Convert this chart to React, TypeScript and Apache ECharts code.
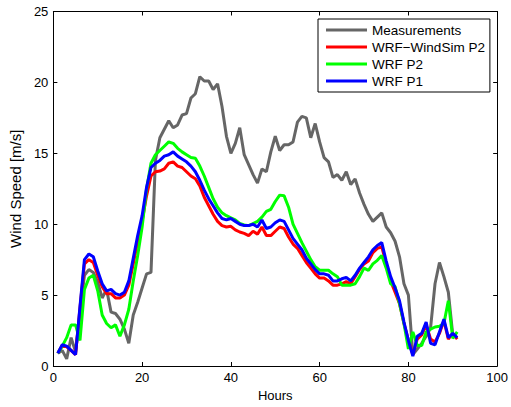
import React, { useEffect, useRef } from "react";
import * as echarts from "echarts";

const hours: number[] = Array.from({ length: 91 }, (_, i) => i + 1);

const measurements: number[] = [
  0.9, 1.1, 0.5, 2.0, 1.0, 3.7, 6.4, 6.8, 6.6, 5.9,
  4.8, 5.4, 3.8, 3.7, 3.3, 2.6, 1.6, 3.6, 4.5, 5.5,
  6.5, 6.6, 14.5, 16.1, 16.7, 17.3, 16.8, 17.0, 17.7, 17.8,
  18.9, 19.2, 20.4, 20.1, 20.1, 19.5, 19.9, 18.3, 16.2, 15.0,
  15.7, 16.8, 14.9, 14.2, 13.5, 12.9, 13.9, 13.7, 15.1, 16.2,
  15.2, 15.6, 15.6, 15.8, 17.2, 17.6, 17.5, 16.1, 17.1, 15.8,
  14.7, 14.4, 13.3, 13.5, 13.1, 13.7, 12.8, 13.2, 12.2, 11.4,
  10.7, 10.2, 10.5, 10.8, 9.8, 9.4, 8.8, 7.7, 5.8, 5.0,
  0.8, 1.2, 1.6, 2.1, 2.7, 5.8, 7.3, 6.3, 5.2, 2.2,
  2.0,
];

const wrfWindSimP2: number[] = [
  0.9, 1.45, 1.35, 1.1, 0.8, 4.1, 7.2, 7.5, 7.3, 6.4,
  5.6, 5.1, 5.1, 4.8, 4.8, 5.0, 5.7, 7.2, 8.8, 10.2,
  12.0, 13.4, 13.7, 13.75, 13.9, 14.3, 14.4, 14.1, 14.0, 13.7,
  13.4, 13.2, 12.7, 11.9, 11.3, 10.7, 10.2, 9.9, 9.8, 9.85,
  9.6, 9.45, 9.35, 9.2, 9.5, 9.3, 9.8, 9.2, 9.2, 9.5,
  9.8, 9.7, 9.1, 8.6, 8.3, 7.8, 7.3, 6.9, 6.5, 6.2,
  6.2, 6.0, 5.7, 5.7, 5.8, 5.95, 5.8, 6.3, 6.8, 7.2,
  7.4, 8.0, 8.3, 8.4, 7.2, 6.0, 5.2, 4.4, 3.0, 1.8,
  0.8, 1.9, 2.2, 2.9, 1.9, 1.7, 2.3, 3.2, 1.9, 2.3,
  1.9,
];

const wrfP2: number[] = [
  0.9, 1.4, 2.0, 2.9, 2.9, 1.8, 5.4, 6.2, 6.4, 5.3,
  3.6, 3.0, 2.7, 2.9, 2.1, 2.9, 4.0, 6.0, 7.8, 9.8,
  12.5, 14.3, 14.9, 15.2, 15.5, 15.8, 15.7, 15.35, 15.1, 14.9,
  14.7, 14.65, 14.1, 13.4, 12.6, 11.8, 11.2, 10.8, 10.6, 10.45,
  10.3, 10.05, 9.95, 9.9, 10.05, 10.2, 10.5, 10.9, 11.05, 11.6,
  12.05, 12.0, 11.2, 10.0, 9.35, 8.7, 8.1, 7.5, 7.0, 6.75,
  6.75, 6.75, 6.5, 6.3, 5.7, 5.7, 5.7, 5.8, 6.3, 6.9,
  6.75, 7.2, 7.45, 7.8, 6.9, 5.8, 5.6, 4.4, 3.0, 1.2,
  2.4, 1.45, 1.45, 2.4, 2.6, 2.75, 2.8, 3.0, 4.6, 1.95,
  2.4,
];

const wrfP1: number[] = [
  0.9, 1.5, 1.4, 1.1, 0.8, 4.2, 7.5, 7.9, 7.7, 6.7,
  5.8, 5.3, 5.4, 5.1, 5.0, 5.2, 6.0, 7.6, 9.2, 10.6,
  12.6, 14.0, 14.3, 14.5, 14.8, 14.9, 15.1, 14.8, 14.6, 14.4,
  14.1, 13.7, 13.1, 12.4, 11.8, 11.3, 10.8, 10.4, 10.3, 10.4,
  10.2, 10.0, 9.9, 9.9, 10.0, 9.8, 10.3, 9.7, 9.8, 10.1,
  10.3, 10.2, 9.6, 9.0, 8.6, 8.2, 7.6, 7.2, 6.8, 6.5,
  6.5, 6.4, 6.0, 6.0, 6.15, 6.25, 6.0, 6.4, 6.9, 7.3,
  7.7, 8.2, 8.5, 8.7, 7.4, 6.3, 5.5, 4.6, 3.1, 1.8,
  0.7, 2.1, 2.3, 3.1, 1.6, 1.5, 2.4, 3.3, 2.0, 2.3,
  2.0,
];

const seriesNames: string[] = ["Measurements", "WRF\u2212WindSim P2", "WRF P2", "WRF P1"];
const seriesColors: string[] = ["#666666", "#ff0000", "#00ff00", "#0000ff"];
const seriesValues: number[][] = [measurements, wrfWindSimP2, wrfP2, wrfP1];

const FONT = "'Liberation Sans', Arial, Helvetica, sans-serif";

export default function App() {
  const ref = useRef<HTMLDivElement>(null);

  useEffect(() => {
    if (!ref.current) return;
    const chart = echarts.init(ref.current, undefined, { renderer: "svg" });

    const axisCommon = {
      axisLine: { show: true, onZero: false, lineStyle: { color: "#000", width: 1 } },
      axisTick: { show: true, inside: true, length: 4, lineStyle: { color: "#000", width: 1 } },
      splitLine: { show: false },
    };

    const option: any = {
      animation: false,
      backgroundColor: "#ffffff",
      textStyle: { fontFamily: FONT },
      grid: { left: 48.5, right: 12, top: 11.5, bottom: 41, containLabel: false },
      legend: {
        orient: "vertical",
        left: 318,
        top: 19,
        backgroundColor: "#ffffff",
        borderColor: "#000",
        borderWidth: 1,
        borderRadius: 0,
        padding: [4, 5, 4, 8],
        icon: "rect",
        itemWidth: 41,
        itemHeight: 3,
        itemGap: 3,
        data: seriesNames,
        textStyle: { fontSize: 13.5, color: "#000", fontFamily: FONT, lineHeight: 14 },
      },
      xAxis: [
        {
          type: "value",
          position: "bottom",
          min: 0,
          max: 100,
          interval: 20,
          ...axisCommon,
          axisLabel: { color: "#000", fontSize: 13, margin: 5, fontFamily: FONT },
          name: "Hours",
          nameLocation: "middle",
          nameGap: 21,
          nameTextStyle: { color: "#000", fontSize: 13, fontFamily: FONT },
        },
        {
          type: "value",
          position: "top",
          min: 0,
          max: 100,
          interval: 20,
          ...axisCommon,
          axisLabel: { show: false },
        },
      ],
      yAxis: [
        {
          type: "value",
          position: "left",
          min: 0,
          max: 25,
          interval: 5,
          ...axisCommon,
          axisLabel: { color: "#000", fontSize: 13, margin: 5, fontFamily: FONT },
          name: "Wind Speed [m/s]",
          nameLocation: "middle",
          nameGap: 27,
          nameRotate: 90,
          nameTextStyle: { color: "#000", fontSize: 15, fontFamily: FONT },
        },
        {
          type: "value",
          position: "right",
          min: 0,
          max: 25,
          interval: 5,
          ...axisCommon,
          axisLabel: { show: false },
        },
      ],
      series: seriesNames.map((name, k) => ({
        name,
        type: "line",
        xAxisIndex: 0,
        yAxisIndex: 0,
        symbol: "none",
        showSymbol: false,
        color: seriesColors[k],
        itemStyle: { color: seriesColors[k] },
        lineStyle: { color: seriesColors[k], width: 3 },
        data: hours.map((h, i) => [h, seriesValues[k][i]]),
      })),
    };

    chart.setOption(option);
    return () => chart.dispose();
  }, []);

  return (
    <div
      ref={ref}
      style={{ position: "fixed", left: 0, top: 0, width: 511, height: 407, background: "#fff" }}
    />
  );
}
